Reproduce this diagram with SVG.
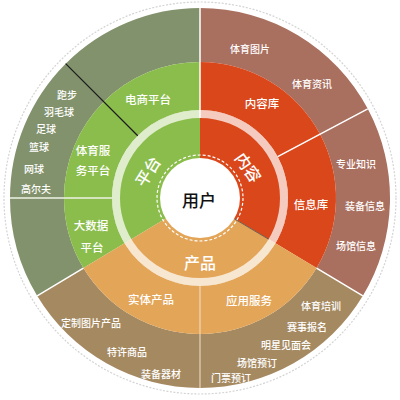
<svg xmlns="http://www.w3.org/2000/svg" width="400" height="400" viewBox="0 0 400 400">
<style>
text{font-family:"Noto Sans CJK SC","Noto Sans",sans-serif;text-anchor:middle;dominant-baseline:central;fill:#fff}
.o{font-size:10px;font-weight:500}
.m{font-size:11.5px;font-weight:500}
.i{font-size:16px;font-weight:500}
.g-out{fill:#82926c}
.r-out{fill:#a96f5f}
.b-out{fill:#a58961}
.g-mid{fill:#8bbd4c}
.r-mid{fill:#da471b}
.b-mid{fill:#e3a558}
.sep{stroke:#fff;stroke-width:1.5}
</style>
<rect width="400" height="400" fill="#fff"/>
<circle cx="200" cy="198" r="196" fill="none" stroke="#d4d4d4" stroke-width="1.2" stroke-dasharray="2 1.5"/>
<g id="outer-ecommerce"><path class="g-out" d="M65.65,63.65 A190,190 0 0 1 200,8 L200,62 A136,136 0 0 0 103.83,101.83 Z"/></g>
<g id="outer-sports"><path class="g-out" d="M10,198 A190,190 0 0 1 65.65,63.65 L103.83,101.83 A136,136 0 0 0 64,198 Z"/>
<text class="o" x="67" y="94">跑步</text><text class="o" x="59" y="111">羽毛球</text><text class="o" x="46" y="128">足球</text><text class="o" x="39" y="146">篮球</text><text class="o" x="34" y="168">网球</text><text class="o" x="36" y="188">高尔夫</text></g>
<g id="outer-bigdata"><path class="g-out" d="M37.14,295.86 A190,190 0 0 1 10,198 L64,198 A136,136 0 0 0 83.42,268.05 Z"/></g>
<g id="outer-content"><path class="r-out" d="M200,8 A190,190 0 0 1 367.76,108.8 L320.08,134.15 A136,136 0 0 0 200,62 Z"/>
<text class="o" x="250" y="48">体育图片</text><text class="o" x="312" y="83">体育资讯</text></g>
<g id="outer-info"><path class="r-out" d="M367.76,108.8 A190,190 0 0 1 362.86,295.86 L316.58,268.05 A136,136 0 0 0 320.08,134.15 Z"/>
<text class="o" x="356" y="163">专业知识</text><text class="o" x="365" y="205">装备信息</text><text class="o" x="356" y="245">场馆信息</text></g>
<g id="outer-app"><path class="b-out" d="M362.86,295.86 A190,190 0 0 1 200,388 L200,334 A136,136 0 0 0 316.58,268.05 Z"/>
<text class="o" x="321" y="305">体育培训</text><text class="o" x="307" y="326">赛事报名</text><text class="o" x="286" y="344">明星见面会</text><text class="o" x="257" y="362">场馆预订</text><text class="o" x="231" y="377">门票预订</text></g>
<g id="outer-physical"><path class="b-out" d="M200,388 A190,190 0 0 1 37.14,295.86 L83.42,268.05 A136,136 0 0 0 200,334 Z"/>
<text class="o" x="91" y="322">定制图片产品</text><text class="o" x="127" y="351">特许商品</text><text class="o" x="161" y="373">装备器材</text></g>
<g id="mid-ecommerce"><path class="g-mid" d="M103.83,101.83 A136,136 0 0 1 200,62 L200,110 A88,88 0 0 0 137.77,135.77 Z"/><text class="m" x="148" y="99">电商平台</text></g>
<g id="mid-sports"><path class="g-mid" d="M64,198 A136,136 0 0 1 103.83,101.83 L137.77,135.77 A88,88 0 0 0 112,198 Z"/><text class="m" x="93" y="150">体育服</text><text class="m" x="93" y="170">务平台</text></g>
<g id="mid-bigdata"><path class="g-mid" d="M83.42,268.05 A136,136 0 0 1 64,198 L112,198 A88,88 0 0 0 124.57,243.32 Z"/><text class="m" x="91" y="225">大数据</text><text class="m" x="92" y="247">平台</text></g>
<g id="mid-content"><path class="r-mid" d="M200,62 A136,136 0 0 1 320.08,134.15 L277.7,156.69 A88,88 0 0 0 200,110 Z"/><text class="m" x="262" y="103">内容库</text></g>
<g id="mid-info"><path class="r-mid" d="M320.08,134.15 A136,136 0 0 1 316.58,268.05 L275.43,243.32 A88,88 0 0 0 277.7,156.69 Z"/><text class="m" x="311" y="204">信息库</text></g>
<g id="mid-app"><path class="b-mid" d="M316.58,268.05 A136,136 0 0 1 200,334 L200,286 A88,88 0 0 0 275.43,243.32 Z"/><text class="m" x="249" y="300">应用服务</text></g>
<g id="mid-physical"><path class="b-mid" d="M200,334 A136,136 0 0 1 83.42,268.05 L124.57,243.32 A88,88 0 0 0 200,286 Z"/><text class="m" x="151" y="299">实体产品</text></g>
<g id="inner-platform"><path class="g-mid" d="M200,198 L124.57,243.32 A88,88 0 0 1 200,110 Z"/></g>
<g id="inner-content"><path class="r-mid" d="M200,198 L200,110 A88,88 0 0 1 275.43,243.32 Z"/></g>
<g id="inner-product"><path class="b-mid" d="M200,198 L275.43,243.32 A88,88 0 0 1 124.57,243.32 Z"/></g>
<circle cx="200" cy="198" r="84" fill="none" stroke="#fff" stroke-width="8" opacity="0.72"/>
<g id="connectors">
<line class="sep" x1="200" y1="118" x2="200" y2="8"/>
<line class="sep" x1="277.7" y1="156.69" x2="367.76" y2="108.8"/>
<line class="sep" x1="316.58" y1="268.05" x2="362.86" y2="295.86"/>
<line x1="200" y1="286" x2="200" y2="388" stroke="#f2e2cc" stroke-width="1"/>
<line class="sep" x1="83.42" y1="268.05" x2="37.14" y2="295.86"/>
<line x1="112" y1="198" x2="10" y2="198" stroke="#eef3e6" stroke-width="1.3"/>
<line x1="137.77" y1="135.77" x2="65.65" y2="63.65" stroke="#1a1a1a" stroke-width="1.2"/>
<line x1="234" y1="218.6" x2="268.6" y2="239.2" stroke="#4a4a4a" stroke-width="0.8"/>
</g>
<g id="user">
<circle cx="200" cy="198" r="43" fill="none" stroke="#fff" stroke-width="1.2" stroke-dasharray="3 2"/>
<circle cx="200" cy="198" r="40" fill="#fff"/>
<text x="199" y="199" style="fill:#111;font-size:17px;font-weight:500">用户</text>
</g>
<g id="inner-labels">
<text class="i" transform="translate(147,171) rotate(-58)">平台</text>
<text class="i" transform="translate(249,167) rotate(55)">内容</text>
<text class="i" x="200" y="262">产品</text>
</g>
</svg>
